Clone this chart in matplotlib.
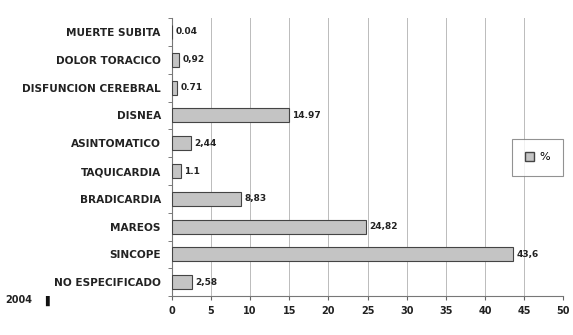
import matplotlib
matplotlib.use("Agg")
import matplotlib.pyplot as plt
from matplotlib.patches import Patch

categories = ["MUERTE SUBITA", "DOLOR TORACICO", "DISFUNCION CEREBRAL", "DISNEA",
              "ASINTOMATICO", "TAQUICARDIA", "BRADICARDIA", "MAREOS", "SINCOPE",
              "NO ESPECIFICADO"]
values = [0.04, 0.92, 0.71, 14.97, 2.44, 1.1, 8.83, 24.82, 43.6, 2.58]
value_labels = ["0.04", "0,92", "0.71", "14.97", "2,44", "1.1", "8,83", "24,82", "43,6", "2,58"]
x_ticks = [0, 5, 10, 15, 20, 25, 30, 35, 40, 45, 50]

plt.rcParams["font.family"] = ["DejaVu Sans"]

fig = plt.figure(figsize=(5.73, 3.35), dpi=100)
ax = fig.add_axes([0.300, 0.116, 0.683, 0.830])

y = list(range(len(categories)))
ax.barh(y, values, height=0.5, color="#c4c4c4", edgecolor="#444444", linewidth=0.8, zorder=3)
for yi, v, lab in zip(y, values, value_labels):
    ax.text(v + 0.4, yi, lab, va="center", ha="left", fontsize=6.5, fontweight="bold",
            color="#222222")

ax.set_ylim(len(categories) - 0.5, -0.5)
ax.set_xlim(0, 50)
ax.set_yticks(y)
ax.set_yticklabels(categories, fontsize=7.6, fontweight="bold", color="#222222")
ax.set_yticks([i + 0.5 for i in range(-1, len(categories))], minor=True)
ax.tick_params(axis="y", which="major", length=0, pad=8)
ax.tick_params(axis="y", which="minor", length=3, color="#666666")
ax.set_xticks(x_ticks)
ax.set_xticklabels([str(t) for t in x_ticks], fontsize=7, fontweight="bold", color="#222222")
ax.tick_params(axis="x", length=3, color="#666666", pad=4)
ax.grid(axis="x", color="#bbbbbb", linewidth=0.7, zorder=0)

for s in ("top", "right"):
    ax.spines[s].set_visible(False)
for s in ("left", "bottom"):
    ax.spines[s].set_color("#777777")
    ax.spines[s].set_linewidth(0.8)

leg = ax.legend([Patch(facecolor="#c4c4c4", edgecolor="#444444")], ["%"],
                loc="center right", bbox_to_anchor=(1.0, 0.5), fontsize=8,
                handlelength=0.8, handleheight=0.8, fancybox=False,
                edgecolor="#777777", borderpad=1.2, handletextpad=0.5,
                borderaxespad=0.0)
leg.get_frame().set_linewidth(0.8)

fig.text(0.009, 0.103, "2004", fontsize=7, fontweight="bold", color="#222222", va="center")
fig.text(0.079, 0.103, "\u258c", fontsize=7, color="#111111", va="center")

fig.savefig("out.png", dpi=100, facecolor="white")
